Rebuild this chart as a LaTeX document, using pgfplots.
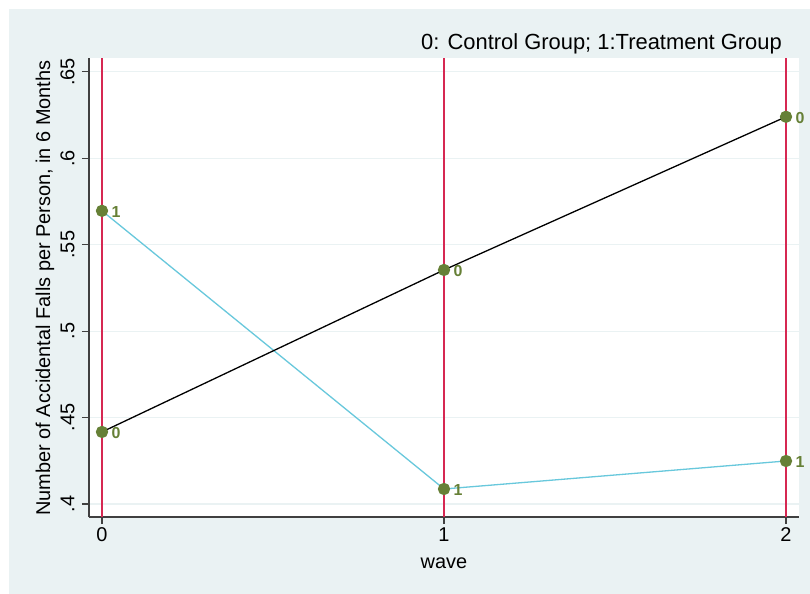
\documentclass[border=0pt]{standalone}
\usepackage{fontspec}
\setmainfont{Liberation Sans}
\usepackage{pgfplots}
\pgfplotsset{compat=1.18}
\definecolor{bgc}{RGB}{234,242,243}
\definecolor{gridc}{RGB}{234,242,243}
\definecolor{redl}{RGB}{214,40,82}
\definecolor{cyanl}{RGB}{104,200,220}
\definecolor{olivem}{RGB}{102,128,54}
\begin{document}
\begin{tikzpicture}
\path[use as bounding box] (0bp,0bp) rectangle (810bp,594bp);
\fill[bgc] (9bp,0bp) rectangle (810bp,585bp);
\begin{axis}[
  at={(89bp,77bp)}, anchor=south west,
  scale only axis, width=710bp, height=459bp,
  xmin=-0.038, xmax=2.038, ymin=0.3925, ymax=0.658,
  axis x line*=bottom, axis y line*=left,
  axis line style={color=black!75, line width=1.1bp},
  axis background/.style={fill=white},
  xtick={0,1,2},
  ytick={0.4,0.45,0.5,0.55,0.6,0.65},
  yticklabels={.4,.45,.5,.55,.6,.65},
  /pgf/number format/assume math mode=true,
  ticklabel style={font=\fontsize{20}{20}\selectfont},
  yticklabel style={rotate=90, anchor=south},
  yticklabel shift=4bp,
  tick align=outside, major tick length=7bp,
  tick style={color=black!75, line width=1.1bp},
  ymajorgrids, major grid style={color=gridc, line width=1.2bp},
  clip=false,
]
\addplot[redl, line width=1.3bp] coordinates {(0,0.3925) (0,0.658)};
\addplot[redl, line width=1.3bp] coordinates {(1,0.3925) (1,0.658)};
\addplot[redl, line width=1.3bp] coordinates {(2,0.3925) (2,0.658)};
\addplot[cyanl, line width=1.3bp, mark=*, mark size=5.5bp,
  mark options={fill=olivem, draw=olivem},
  nodes near coords, point meta=explicit symbolic,
  every node near coord/.style={anchor=west, text=olivem, inner sep=0pt, xshift=9bp, yshift=-1.5bp, font=\bfseries\fontsize{16}{16}\selectfont}]
  table[meta=lab] {
x y lab
0 0.5696 1
1 0.4087 1
2 0.4249 1
};
\addplot[black, line width=1.3bp, mark=*, mark size=5.5bp,
  mark options={fill=olivem, draw=olivem},
  nodes near coords, point meta=explicit symbolic,
  every node near coord/.style={anchor=west, text=olivem, inner sep=0pt, xshift=9bp, yshift=-1.5bp, font=\bfseries\fontsize{16}{16}\selectfont}]
  table[meta=lab] {
x y lab
0 0.4417 0
1 0.5354 0
2 0.6240 0
};
\end{axis}
\node[anchor=base east, inner sep=0pt, font=\fontsize{22}{22}\selectfont] at (782bp,544bp) {0: Control Group; 1:Treatment Group};
\node[anchor=base, inner sep=0pt, font=\fontsize{20}{20}\selectfont] at (444bp,26bp) {wave};
\node[anchor=base, inner sep=0pt, rotate=90, font=\fontsize{20}{20}\selectfont] at (50bp,306bp) {Number of Accidental Falls per Person, in 6 Months};
\end{tikzpicture}
\end{document}
